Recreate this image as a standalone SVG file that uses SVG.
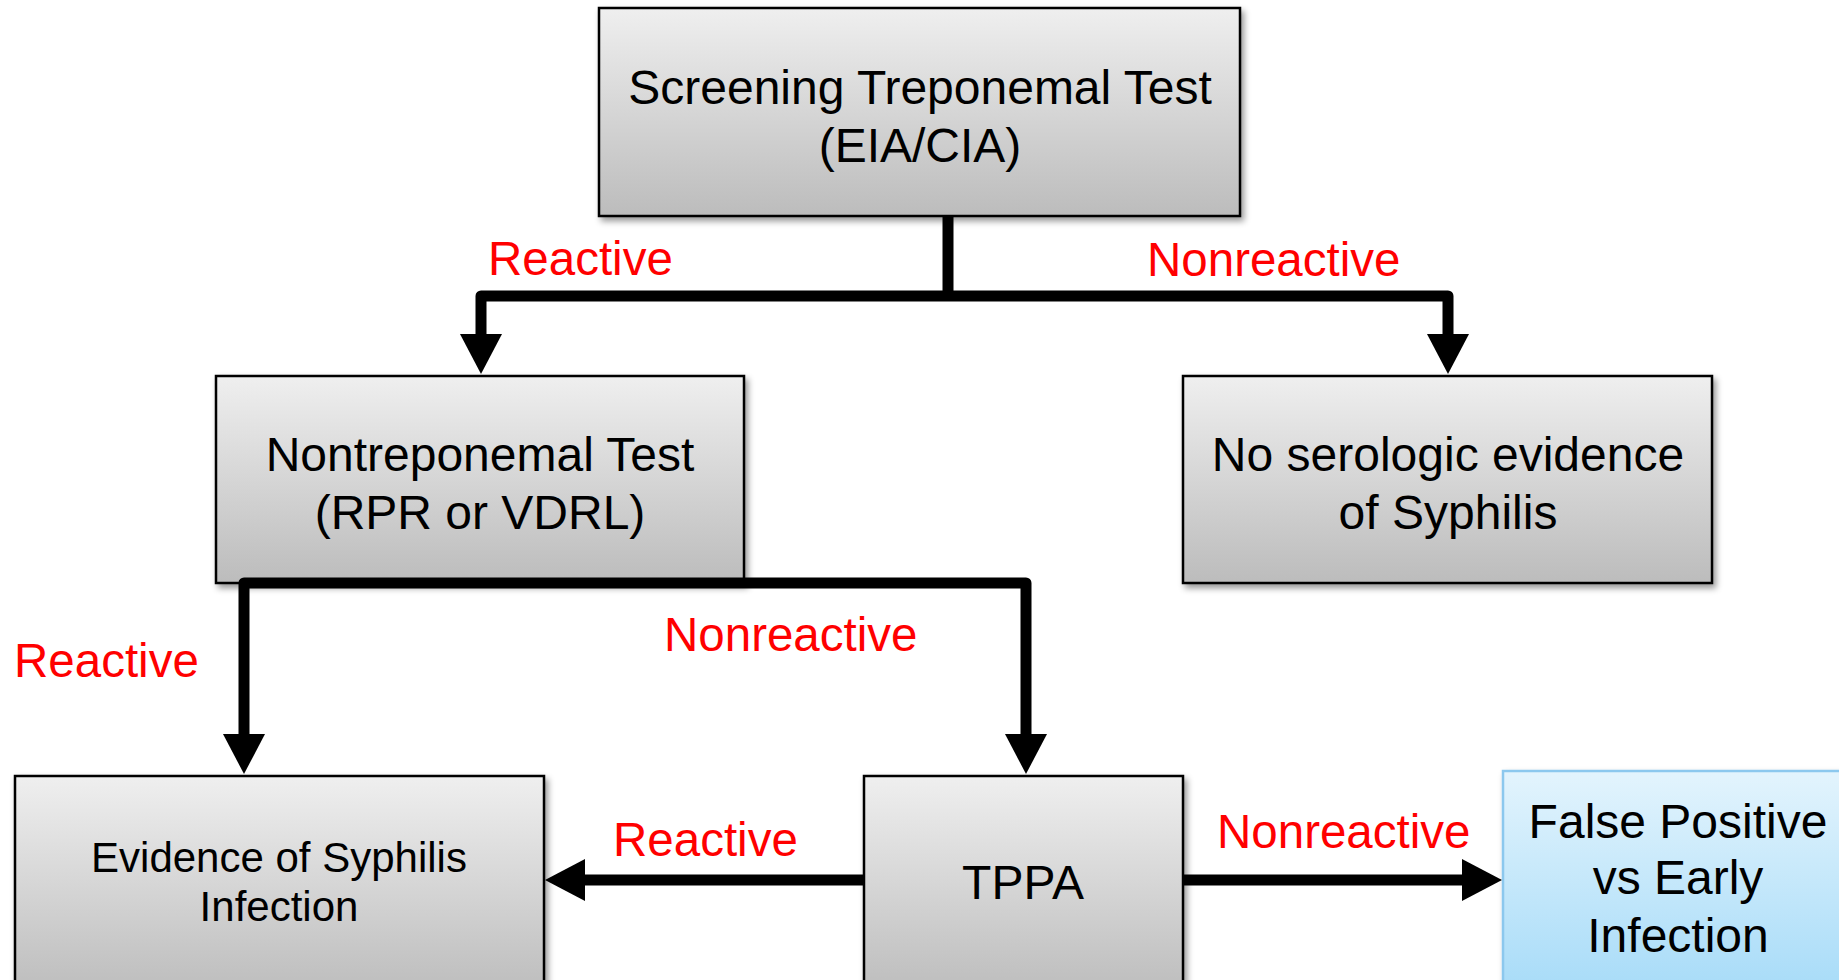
<svg xmlns="http://www.w3.org/2000/svg" width="1839" height="980" viewBox="0 0 1839 980">
<defs>
<linearGradient id="gray" x1="0" y1="0" x2="0" y2="1">
<stop offset="0" stop-color="#efefef"/>
<stop offset="1" stop-color="#bcbcbc"/>
</linearGradient>
<linearGradient id="blue" x1="0" y1="0" x2="0" y2="1">
<stop offset="0" stop-color="#e3f4fd"/>
<stop offset="1" stop-color="#a6dbf8"/>
</linearGradient>
<filter id="shadow" x="-10%" y="-10%" width="120%" height="130%">
<feDropShadow dx="3" dy="4" stdDeviation="3" flood-color="#000" flood-opacity="0.4"/>
</filter>
<marker id="arrow" markerUnits="userSpaceOnUse" markerWidth="42" markerHeight="44" refX="1" refY="22" orient="auto">
<path d="M0,1 L40,22 L0,43 z" fill="#000"/>
</marker>
</defs>
<style>
.box{fill:url(#gray);stroke:#000;stroke-width:2.5;filter:url(#shadow)}
.bbox{fill:url(#blue);stroke:#8cc8ee;stroke-width:2.5;filter:url(#shadow)}
.t{font-family:"Liberation Sans",Arial,Helvetica,sans-serif;font-size:48px;fill:#000;text-anchor:middle}
.s{font-size:42px}
.lbl{font-family:"Liberation Sans",Arial,Helvetica,sans-serif;font-size:47.5px;fill:#ff0000}
.c{fill:none;stroke:#000;stroke-width:11;stroke-linejoin:round}
</style>
<rect width="1839" height="980" fill="#fff"/>
<g id="n-screening">
<rect class="box" x="599" y="8" width="641" height="208"/>
<text class="t" x="920" y="104">Screening Treponemal Test</text>
<text class="t" x="920" y="162">(EIA/CIA)</text>
</g>
<g id="n-nontrep">
<rect class="box" x="216" y="376" width="528" height="207"/>
<text class="t" x="480" y="471">Nontreponemal Test</text>
<text class="t" x="480" y="529">(RPR or VDRL)</text>
</g>
<g id="n-noevidence">
<rect class="box" x="1183" y="376" width="529" height="207"/>
<text class="t" x="1448" y="471">No serologic evidence</text>
<text class="t" x="1448" y="529">of Syphilis</text>
</g>
<g id="n-evidence">
<rect class="box" x="15" y="776" width="529" height="220"/>
<text class="t s" x="279" y="872">Evidence of Syphilis</text>
<text class="t s" x="279" y="921">Infection</text>
</g>
<g id="n-tppa">
<rect class="box" x="864" y="776" width="319" height="220"/>
<text class="t" x="1023" y="899">TPPA</text>
</g>
<g id="n-falsepos">
<rect class="bbox" x="1503" y="771" width="345" height="225"/>
<text class="t" x="1678" y="838">False Positive</text>
<text class="t" x="1678" y="894">vs Early</text>
<text class="t" x="1678" y="952">Infection</text>
</g>
<g id="connectors">
<path class="c" d="M948 216 V296"/>
<path class="c" d="M948 296 H481 V335" marker-end="url(#arrow)"/>
<path class="c" d="M948 296 H1448 V335" marker-end="url(#arrow)"/>
<path class="c" d="M480 583 H244 V735" marker-end="url(#arrow)"/>
<path class="c" d="M480 583 H1026 V735" marker-end="url(#arrow)"/>
<path class="c" d="M864 880 H584" marker-end="url(#arrow)"/>
<path class="c" d="M1183 880 H1463" marker-end="url(#arrow)"/>
</g>
<g id="labels">
<text class="lbl" x="488" y="275">Reactive</text>
<text class="lbl" x="1147" y="276">Nonreactive</text>
<text class="lbl" x="14" y="677">Reactive</text>
<text class="lbl" x="664" y="651">Nonreactive</text>
<text class="lbl" x="613" y="856">Reactive</text>
<text class="lbl" x="1217" y="848">Nonreactive</text>
</g>
</svg>
